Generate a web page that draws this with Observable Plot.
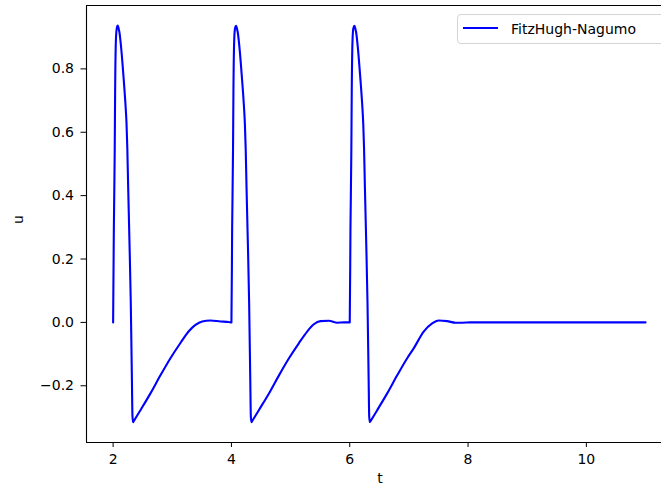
<!DOCTYPE html>
<html>
<head>
<meta charset="utf-8">
<script src="https://cdn.jsdelivr.net/npm/d3@7"></script>
<script src="https://cdn.jsdelivr.net/npm/@observablehq/plot@0.6"></script>
<style>
  html, body { margin: 0; padding: 0; background: #fff; overflow: hidden; }
  #wrap { position: relative; width: 661px; height: 491px; }
  .legend {
    position: absolute; left: 457px; top: 14px; width: 215px; height: 30px;
    box-sizing: border-box; border: 1px solid #d4d4d4; border-radius: 4px;
    background: rgba(255,255,255,0.8);
    font-family: "DejaVu Sans", sans-serif; font-size: 14px; color: #000;
  }
  .legend .swatch { position: absolute; left: 5px; top: 12px; width: 35px; height: 2px; background: #0000ff; }
  .legend .name { position: absolute; left: 53px; top: 5px; line-height: 18px; white-space: nowrap; }
</style>
</head>
<body>
<div id="wrap"></div>
<script>
// FitzHugh-Nagumo membrane potential u(t): three stimulated spikes, then rest.
const times = [
  2.000, 2.012, 2.027, 2.034, 2.047, 2.061, 2.077, 2.090, 2.107, 2.140,
  2.174, 2.208, 2.226, 2.240, 2.254, 2.276, 2.298, 2.318, 2.327, 2.338, 2.348, 2.462,
  2.631, 2.800, 2.969, 3.138, 3.279, 3.392, 3.505, 3.645, 3.814, 3.955, 3.995,
  4.000, 4.012, 4.027, 4.034, 4.047, 4.061, 4.078, 4.091, 4.108, 4.141,
  4.175, 4.209, 4.227, 4.241, 4.255, 4.277, 4.299, 4.319, 4.328, 4.339, 4.349, 4.463,
  4.632, 4.801, 4.970, 5.139, 5.280, 5.393, 5.505, 5.646, 5.790, 5.900, 5.995,
  6.000, 6.012, 6.027, 6.034, 6.047, 6.061, 6.079, 6.092, 6.109, 6.142,
  6.176, 6.210, 6.228, 6.242, 6.256, 6.278, 6.300, 6.320, 6.329, 6.340, 6.350, 6.464,
  6.633, 6.802, 6.971, 7.081, 7.250, 7.393, 7.505, 7.646, 7.787, 7.900,
  8.040, 9.000, 10.000, 11.000
];
const potential = [
  0.000, 0.290, 0.540, 0.730, 0.890, 0.927, 0.937, 0.930, 0.915, 0.858,
  0.779, 0.690, 0.630, 0.550, 0.430, 0.257, 0.067, -0.186, -0.296, -0.315, -0.312, -0.277,
  -0.224, -0.167, -0.113, -0.065, -0.028, -0.008, 0.003, 0.006, 0.003, 0.001, 0.000,
  0.000, 0.295, 0.545, 0.732, 0.891, 0.928, 0.936, 0.929, 0.914, 0.857,
  0.778, 0.689, 0.628, 0.548, 0.428, 0.255, 0.065, -0.188, -0.297, -0.315, -0.312, -0.277,
  -0.225, -0.168, -0.114, -0.066, -0.029, -0.006, 0.004, 0.005, -0.001, 0.000, 0.000,
  0.000, 0.293, 0.543, 0.731, 0.890, 0.928, 0.936, 0.929, 0.914, 0.857,
  0.778, 0.689, 0.628, 0.548, 0.428, 0.255, 0.065, -0.188, -0.297, -0.315, -0.312, -0.277,
  -0.224, -0.167, -0.113, -0.082, -0.029, -0.003, 0.006, 0.004, -0.001, -0.001,
  0.000, 0.000, 0.000, 0.000
];
const xTicks = [2, 4, 6, 8, 10];
const yTicks = [-0.2, 0.0, 0.2, 0.4, 0.6, 0.8];
const xName = "t";
const yName = "u";
const seriesName = "FitzHugh-Nagumo";

const rows = times.map((t, i) => ({t, u: potential[i]}));

const xDomain = [1.55, 11.27];
const yDomain = [-0.379, 1.0];

const chart = Plot.plot({
  width: 661,
  height: 491,
  marginLeft: 86,
  marginRight: 0,
  marginTop: 5,
  marginBottom: 49,
  style: {fontFamily: "DejaVu Sans, sans-serif", fontSize: "14px", color: "#000", background: "#fff"},
  x: {domain: xDomain},
  y: {domain: yDomain},
  marks: [
    Plot.axisX({ticks: xTicks, tickSize: 5, tickPadding: 7, fontSize: 14, label: null}),
    Plot.axisY({ticks: yTicks, tickSize: 5.5, tickPadding: 7, fontSize: 14,
      tickFormat: d3.format(".1f"), label: null}),
    // axis titles; the axes box runs past the right edge, so the x title sits right of centre
    Plot.text([xName], {frameAnchor: "bottom", text: d => d, dx: 6, dy: 40, fontSize: 14, fill: "#000"}),
    Plot.text([yName], {frameAnchor: "left", text: d => d, dx: -68, rotate: -90, fontSize: 14, fill: "#000"}),
    Plot.ruleX([xDomain[0]], {stroke: "#000", strokeWidth: 1.1}),
    Plot.ruleY([yDomain[0], yDomain[1]], {stroke: "#000", strokeWidth: 1.1}),
    Plot.line(rows, {x: "t", y: "u", stroke: "#0000ff", strokeWidth: 2.1,
      strokeLinejoin: "round", curve: "monotone-x"})
  ]
});

const wrap = document.getElementById("wrap");
wrap.appendChild(chart);

const legend = document.createElement("div");
legend.className = "legend";
legend.innerHTML = `<div class="swatch"></div><div class="name"></div>`;
legend.querySelector(".name").textContent = seriesName;
wrap.appendChild(legend);
</script>
</body>
</html>
